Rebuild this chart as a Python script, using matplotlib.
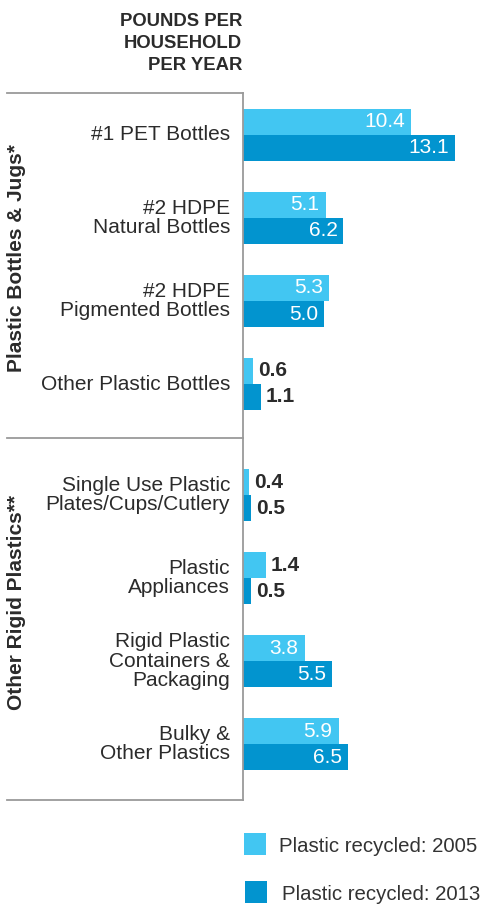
import matplotlib
matplotlib.use("Agg")
import matplotlib.pyplot as plt
from matplotlib.lines import Line2D
from matplotlib.patches import Rectangle

# ---- data ----
categories = ["#1 PET Bottles", "#2 HDPE\nNatural Bottles", "#2 HDPE\nPigmented Bottles",
              "Other Plastic Bottles", "Single Use Plastic\nPlates/Cups/Cutlery",
              "Plastic\nAppliances", "Rigid Plastic\nContainers &\nPackaging",
              "Bulky &\nOther Plastics"]
section_of = [0, 0, 0, 0, 1, 1, 1, 1]
sections = ["Plastic Bottles & Jugs*", "Other Rigid Plastics**"]
values_2005 = [10.4, 5.1, 5.3, 0.6, 0.4, 1.4, 3.8, 5.9]
values_2013 = [13.1, 6.2, 5.0, 1.1, 0.5, 0.5, 5.5, 6.5]
series_names = ["Plastic recycled: 2005", "Plastic recycled: 2013"]
header = "POUNDS PER\nHOUSEHOLD\nPER YEAR"

# ---- style ----
C05 = "#42C6F2"
C13 = "#0294CF"
TXT = "#2b2b2b"
LINE = "#9a9a9a"
FONT = ["Liberation Sans", "DejaVu Sans"]
plt.rcParams["font.family"] = FONT

W, H = 488, 907
fig = plt.figure(figsize=(W / 100, H / 100), dpi=100)

def fx(px):
    return px / W

def fy(py):
    return 1 - py / H

# layout in pixels
x0, box_top, box_bot = 243, 93, 800
unit = 83.0
first_center = 135.0
gap = 0.34
pos = [i + gap * s for i, s in enumerate(section_of)]

ax = fig.add_axes([fx(x0), fy(box_bot), fx(W - x0), (box_bot - box_top) / H])
ax.set_axis_off()
px_per_val = 16.2
ax.set_xlim(0, (W - x0) / px_per_val)
ax.set_ylim((box_bot - first_center) / unit, -(first_center - box_top) / unit)

bh = 26 / unit
y05 = [p - bh / 2 for p in pos]
y13 = [p + bh / 2 for p in pos]
ax.barh(y05, values_2005, height=bh, color=C05, linewidth=0)
ax.barh(y13, values_2013, height=bh, color=C13, linewidth=0)

pt = 72 / 100  # points per pixel

def value_label(v, y):
    if v >= 3:
        ax.annotate(f"{v:.1f}", xy=(v, y), xytext=(-6 * pt, 0), textcoords="offset points",
                    ha="right", va="center", color="white", fontsize=15)
    else:
        ax.annotate(f"{v:.1f}", xy=(v, y), xytext=(5 * pt, 0), textcoords="offset points",
                    ha="left", va="center", color=TXT, fontsize=15, fontweight="bold")

for v, y in zip(values_2005, y05):
    value_label(v, y)
for v, y in zip(values_2013, y13):
    value_label(v, y)

for c, p in zip(categories, pos):
    ax.annotate(c, xy=(0, p), xytext=(-13 * pt, 0), textcoords="offset points",
                ha="right", va="center", color=TXT, fontsize=15, linespacing=1.02,
                annotation_clip=False)

# box lines
div_y = first_center + unit * (pos[3] + (pos[4] - pos[3]) / 2)
for yy in (box_top, div_y - 2, box_bot):
    fig.add_artist(Line2D([fx(7), fx(x0)], [fy(yy), fy(yy)], color=LINE, lw=1.3))
fig.add_artist(Line2D([fx(x0), fx(x0)], [fy(box_top), fy(box_bot)], color=LINE, lw=1.3))

# section labels
fig.text(fx(17), fy(258), sections[0], rotation=90, ha="center", va="center",
         fontsize=15, fontweight="bold", color=TXT)
fig.text(fx(17), fy(602), sections[1], rotation=90, ha="center", va="center",
         fontsize=15, fontweight="bold", color=TXT)

# header
for i, line in enumerate(header.split("\n")):
    fig.text(fx(242), fy(21 + 22 * i), line, ha="right", va="center",
             fontsize=13.3, fontweight="bold", color=TXT)

# legend
for i, (name, col) in enumerate(zip(series_names, [C05, C13])):
    sx = 244 + 1.5 * i
    sy = 833 + 48 * i
    fig.add_artist(Rectangle((fx(sx), fy(sy + 22)), 22 / W, 22 / H, color=col,
                             transform=fig.transFigure, linewidth=0))
    fig.text(fx(279 + 3 * i), fy(sy + 13), name, ha="left", va="center",
             fontsize=14.7, color="#333333")

fig.savefig("out.png", dpi=100)
